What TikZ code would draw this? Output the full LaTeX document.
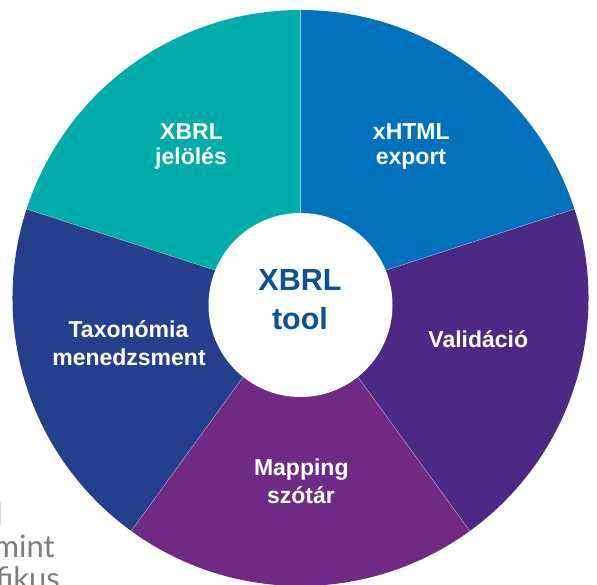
\documentclass[tikz,border=0pt]{standalone}
\usepackage{fontspec}
\setmainfont{Liberation Sans}
\newfontfamily\greyfont{Lato}
\definecolor{cteal}{RGB}{0,173,168}
\definecolor{cblue}{RGB}{0,113,187}
\definecolor{cviolet}{RGB}{74,42,133}
\definecolor{cpurple}{RGB}{111,42,131}
\definecolor{cnavy}{RGB}{38,63,141}
\definecolor{chub}{RGB}{10,80,158}
\definecolor{cgrey}{RGB}{125,125,125}
\begin{document}
\begin{tikzpicture}[x=1pt,y=1pt,
  seglabel/.style={text=white,font=\fontsize{23}{27}\selectfont\bfseries,anchor=base,inner sep=0pt},
  hublabel/.style={text=chub,font=\fontsize{30.5}{36}\selectfont\bfseries,anchor=base,inner sep=0pt},
  greytext/.style={text=cgrey,font=\greyfont\fontsize{31}{34}\selectfont,anchor=base east,inner sep=0pt},
  sepline/.style={draw=white,line width=0.5pt,opacity=0.45}]
\useasboundingbox (0,0) rectangle (597,585);
\begin{scope}
\clip (0,0) rectangle (597,585);
\coordinate (O) at (300.5,287);
\fill[cteal]   (O) -- ++(90:288pt)  arc[start angle=90,  end angle=162, radius=288pt] -- cycle;
\fill[cblue]   (O) -- ++(18:288pt)  arc[start angle=18,  end angle=90,  radius=288pt] -- cycle;
\fill[cviolet] (O) -- ++(-54:288pt) arc[start angle=-54, end angle=18,  radius=288pt] -- cycle;
\fill[cpurple] (O) -- ++(-126:288pt) arc[start angle=-126, end angle=-54, radius=288pt] -- cycle;
\fill[cnavy]   (O) -- ++(162:288pt) arc[start angle=162, end angle=234, radius=288pt] -- cycle;
\foreach \a in {90,18,-54,-126,162} \draw[sepline] (O) -- ++(\a:288pt);
\node[circle,fill=white,minimum size=184pt,inner sep=0pt] (hub) at (300.5,280) {};
% segment labels
\node[seglabel] (t1a) at (191.5,445.7) {XBRL};
\node[seglabel] (t1b) at (191,420.5) {jelölés};
\node[seglabel] (t2a) at (411.3,445.7) {xHTML};
\node[seglabel] (t2b) at (411,420) {export};
\node[seglabel] (t3a) at (478.3,237.7) {Validáció};
\node[seglabel] (t4a) at (301.3,109) {Mapping};
\node[seglabel] (t4b) at (301,81) {szótár};
\node[seglabel] (t5a) at (128.5,247.5) {Taxonómia};
\node[seglabel] (t5b) at (129,219.3) {menedzsment};
% hub
\node[hublabel] (h1) at (300,294.3) {XBRL};
\node[hublabel] (h2) at (300,255) {tool};
% grey text fragments at left
\node[greytext] (g1) at (3,59) {l};
\node[greytext] (g2) at (55,27) {mint};
\node[greytext] (g3) at (60,-5) {ifikus};
\end{scope}
\end{tikzpicture}
\end{document}
